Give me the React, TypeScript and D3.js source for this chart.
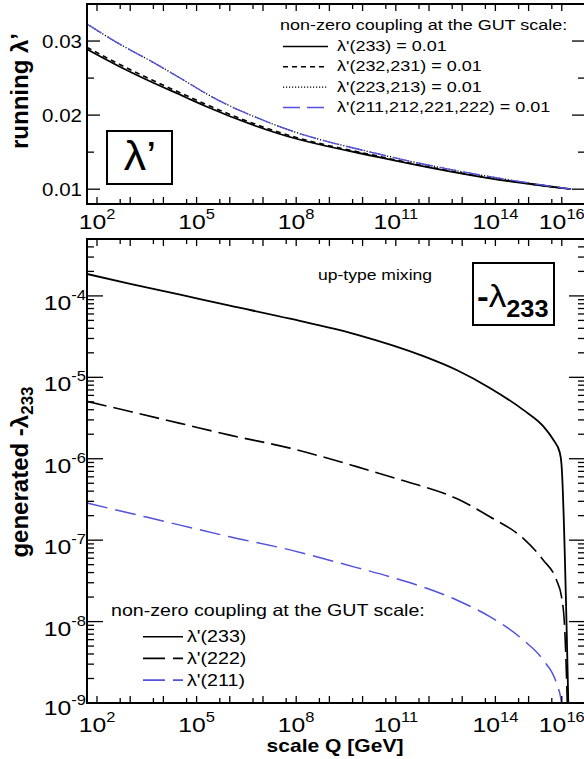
import React from "react";
import * as d3 from "d3";

const W = 584;
const H = 759;
const BLUE = "#5252dc";
const FONT = "'Liberation Sans', Arial, Helvetica, sans-serif";

// upper panel: running lambda' for different GUT-scale couplings
const Q_RUN = [5.0e1, 4.4e2, 4.4e3, 4.5e4, 1.8e5, 3.2e7, 3.3e10, 6.8e13, 1.9e16];
const RUN_233 = [0.02888, 0.02663, 0.02447, 0.02245, 0.02123, 0.01745, 0.0143, 0.01147, 0.01];
const RUN_232 = [0.02916, 0.02693, 0.02477, 0.02272, 0.0215, 0.01765, 0.01441, 0.01151, 0.01];
const RUN_223 = [0.0323, 0.02969, 0.02724, 0.02461, 0.02299, 0.01844, 0.01471, 0.01169, 0.01];
const RUN_211 = [0.0323, 0.02969, 0.02724, 0.02461, 0.02299, 0.01844, 0.01471, 0.01169, 0.01];

// lower panel: generated -lambda_233
const Q_233 = [5e1, 1e3, 3.2e4, 1e6, 6.5e7, 6.6e9, 6.8e11, 6.8e12, 6.8e13, 6.9e14, 2.75e15, 5.5e15, 8.7e15, 9.8e15, 1.6e16];
const GEN_233 = [1.86e-4, 1.41e-4, 1.035e-4, 7.6e-5, 5.25e-5, 3.35e-5, 1.82e-5, 1.23e-5, 7.4e-6, 3.98e-6, 2.51e-6, 1.72e-6, 1.19e-6, 8.5e-7, 7e-10];
const Q_222 = [5e1, 1e3, 3.2e4, 1e6, 6.5e7, 6.6e9, 1.3e11, 6.8e12, 6.8e13, 6.9e14, 2.75e15, 6.9e15, 9.8e15, 1.23e16, 1.5e16];
const GEN_222 = [5.07e-6, 3.8e-6, 2.72e-6, 1.95e-6, 1.35e-6, 8.0e-7, 5.55e-7, 3.24e-7, 1.94e-7, 1.05e-7, 5.7e-8, 3.24e-8, 2.02e-8, 7.9e-9, 7e-10];
const Q_211 = [5e1, 1e3, 3.2e4, 1e6, 6.5e7, 6.6e9, 6.6e10, 6.8e12, 6.8e13, 6.9e14, 2.75e15, 6.9e15, 9.8e15, 1.2e16];
const GEN_211 = [2.86e-7, 2.14e-7, 1.53e-7, 1.1e-7, 7.6e-8, 4.6e-8, 3.56e-8, 1.84e-8, 1.15e-8, 5.94e-9, 3.37e-9, 1.75e-9, 1.0e-9, 4e-10];

// ticks
const X_LABEL_EXP = [2, 5, 8, 11, 14, 16];
const X_DECADES = d3.range(2, 17);
const X_HALVES = d3.range(2, 17).map((n) => 5 * Math.pow(10, n));
const TOP_Y_MAJOR = [0.01, 0.02, 0.03];
const TOP_Y_MINOR = [0.015, 0.025];
const TOP_Y_LABELS = ["0.01", "0.02", "0.03"];
const BOT_Y_EXP = [-9, -8, -7, -6, -5, -4];

const TOP_LEGEND = ["λ'(233) = 0.01", "λ'(232,231) = 0.01", "λ'(223,213) = 0.01", "λ'(211,212,221,222) = 0.01"];
const BOT_LEGEND = ["λ'(233)", "λ'(222)", "λ'(211)"];

const L = 87;
const R = 585;
const TOP = { y0: 4, y1: 204 };
const BOT = { y0: 239, y1: 703 };

const x = d3.scaleLog().domain([50, 5e16]).range([L, R]);
const yTop = d3.scaleLinear().domain([0.008, 0.035]).range([TOP.y1, TOP.y0]);
const yBot = d3.scaleLog().domain([1e-9, 5e-4]).range([BOT.y1, BOT.y0]);

type Pt = [number, number];
const zip = (qs: number[], vs: number[]): Pt[] => qs.map((q, i) => [q, vs[i]] as Pt);

const lineTop = d3.line<Pt>().x((d) => x(d[0])).y((d) => yTop(d[1])).curve(d3.curveMonotoneX);
const lineBot = d3.line<Pt>().x((d) => x(d[0])).y((d) => yBot(d[1])).curve(d3.curveMonotoneX);

function T({ x, y, size, sx = 1.15, anchor = "start", weight = "normal", children }: any) {
  return (
    <text
      transform={`translate(${x},${y}) scale(${sx},1)`}
      fontSize={size}
      textAnchor={anchor}
      fontWeight={weight}
      fontFamily={FONT}
      fill="#000"
    >
      {children}
    </text>
  );
}

function Pow({ x, y, exp, anchor = "middle" }: any) {
  return (
    <T x={x} y={y} size={21} sx={1.18} anchor={anchor}>
      <tspan>10</tspan>
      <tspan fontSize={14} dy={-10}>{exp}</tspan>
    </T>
  );
}

function XTicks({ y0, y1 }: { y0: number; y1: number }) {
  const out: React.ReactNode[] = [];
  X_DECADES.forEach((n) => {
    const px = x(Math.pow(10, n));
    out.push(<line key={"d" + n} x1={px} x2={px} y1={y1} y2={y1 - 7} />);
    out.push(<line key={"dt" + n} x1={px} x2={px} y1={y0} y2={y0 + 7} />);
  });
  X_HALVES.forEach((v, i) => {
    const px = x(v);
    if (px >= R - 1) return;
    out.push(<line key={"h" + i} x1={px} x2={px} y1={y1} y2={y1 - 5} />);
    out.push(<line key={"ht" + i} x1={px} x2={px} y1={y0} y2={y0 + 5} />);
  });
  return <g stroke="#000" strokeWidth={1.3}>{out}</g>;
}

export default function App() {
  const botMinor: number[] = [];
  BOT_Y_EXP.forEach((e) => {
    for (let m = 2; m <= 9; m++) {
      const v = m * Math.pow(10, e);
      if (v <= 5e-4) botMinor.push(v);
    }
  });

  return (
    <svg width={W} height={H} style={{ position: "absolute", left: 0, top: 0, background: "#fff" }}>
      <defs>
        <clipPath id="clipTop">
          <rect x={L} y={TOP.y0} width={R - L} height={TOP.y1 - TOP.y0} />
        </clipPath>
        <clipPath id="clipBot">
          <rect x={L} y={BOT.y0} width={R - L} height={BOT.y1 - BOT.y0} />
        </clipPath>
      </defs>

      {/* ---------- upper panel ---------- */}
      <g clipPath="url(#clipTop)" fill="none">
        <path d={lineTop(zip(Q_RUN, RUN_233)) || ""} stroke="#000" strokeWidth={1.8} />
        <path d={lineTop(zip(Q_RUN, RUN_232)) || ""} stroke="#000" strokeWidth={1.6} strokeDasharray="5,4" />
        <path d={lineTop(zip(Q_RUN, RUN_223)) || ""} stroke="#000" strokeWidth={1.3} strokeDasharray="1.2,1.8" />
        <path d={lineTop(zip(Q_RUN, RUN_211)) || ""} stroke={BLUE} strokeWidth={1.4} strokeDasharray="17,7" />
      </g>
      <XTicks y0={TOP.y0} y1={TOP.y1} />
      <g stroke="#000" strokeWidth={1.3}>
        {TOP_Y_MAJOR.map((v) => (
          <g key={v}>
            <line x1={L} x2={L + 13} y1={yTop(v)} y2={yTop(v)} />
            <line x1={R} x2={R - 13} y1={yTop(v)} y2={yTop(v)} />
          </g>
        ))}
        {TOP_Y_MINOR.map((v) => (
          <g key={v}>
            <line x1={L} x2={L + 7} y1={yTop(v)} y2={yTop(v)} />
            <line x1={R} x2={R - 7} y1={yTop(v)} y2={yTop(v)} />
          </g>
        ))}
      </g>
      <rect x={L} y={TOP.y0} width={R - L} height={TOP.y1 - TOP.y0} fill="none" stroke="#000" strokeWidth={2} />
      {TOP_Y_MAJOR.map((v, i) => (
        <T key={v} x={82} y={yTop(v) + 7} size={19} sx={1.08} anchor="end">
          {TOP_Y_LABELS[i]}
        </T>
      ))}
      {X_LABEL_EXP.map((n) => (
        <Pow key={n} x={x(Math.pow(10, n))} y={229} exp={n} />
      ))}
      <text transform="translate(28,91) rotate(-90)" textAnchor="middle" fontWeight="bold" fontSize={24} fontFamily={FONT}>
        running λ’
      </text>

      {/* legend upper */}
      <T x={280} y={30} size={15.5} sx={1.16}>non-zero coupling at the GUT scale:</T>
      {TOP_LEGEND.map((s, i) => {
        const ly = 46.5 + i * 20.3;
        const styles = [
          { stroke: "#000", w: 1.6, dash: undefined },
          { stroke: "#000", w: 1.6, dash: "5,4" },
          { stroke: "#000", w: 1.3, dash: "1.2,1.8" },
          { stroke: BLUE, w: 1.5, dash: "17,7" },
        ][i];
        return (
          <g key={s}>
            <line x1={283} x2={328} y1={ly} y2={ly} stroke={styles.stroke} strokeWidth={styles.w} strokeDasharray={styles.dash} />
            <T x={337} y={ly + 4.5} size={15.5} sx={1.16}>{s}</T>
          </g>
        );
      })}

      {/* label box upper */}
      <rect x={107} y={131} width={65} height={53} fill="#fff" stroke="#000" strokeWidth={2} />
      <T x={140} y={170} size={40} sx={1.12} anchor="middle">λ’</T>

      {/* ---------- lower panel ---------- */}
      <g clipPath="url(#clipBot)" fill="none">
        <path d={lineBot(zip(Q_233, GEN_233)) || ""} stroke="#000" strokeWidth={1.8} />
        <path d={lineBot(zip(Q_222, GEN_222)) || ""} stroke="#000" strokeWidth={1.6} strokeDasharray="20,7" />
        <path d={lineBot(zip(Q_211, GEN_211)) || ""} stroke={BLUE} strokeWidth={1.5} strokeDasharray="21,8" />
      </g>
      <XTicks y0={BOT.y0} y1={BOT.y1} />
      <g stroke="#000" strokeWidth={1.3}>
        {BOT_Y_EXP.map((e) => {
          const py = yBot(Math.pow(10, e));
          return (
            <g key={e}>
              <line x1={L} x2={L + 16} y1={py} y2={py} />
              <line x1={R} x2={R - 16} y1={py} y2={py} />
            </g>
          );
        })}
        {botMinor.map((v, i) => (
          <g key={i}>
            <line x1={L} x2={L + 7} y1={yBot(v)} y2={yBot(v)} />
            <line x1={R} x2={R - 7} y1={yBot(v)} y2={yBot(v)} />
          </g>
        ))}
      </g>
      <rect x={L} y={BOT.y0} width={R - L} height={BOT.y1 - BOT.y0} fill="none" stroke="#000" strokeWidth={2} />
      {BOT_Y_EXP.map((e) => (
        <Pow key={e} x={86} y={yBot(Math.pow(10, e)) + (e === -9 ? 12 : 14)} exp={e} anchor="end" />
      ))}
      {X_LABEL_EXP.map((n) => (
        <Pow key={n} x={x(Math.pow(10, n))} y={732} exp={n} />
      ))}
      <T x={335} y={752} size={18} sx={1.17} anchor="middle" weight="bold">scale Q [GeV]</T>
      <text transform="translate(28,472) rotate(-90)" textAnchor="middle" fontWeight="bold" fontSize={24} fontFamily={FONT}>
        generated -λ<tspan fontSize={17} dy={5}>233</tspan>
      </text>

      <T x={318} y={280} size={15} sx={1.17}>up-type mixing</T>

      {/* label box lower */}
      <rect x={473} y={263} width={81} height={62} fill="#fff" stroke="#000" strokeWidth={2} />
      <T x={477} y={307} size={32} sx={1.1}>
        <tspan fontWeight="bold">-</tspan>
        <tspan>λ</tspan>
        <tspan fontWeight="bold" fontSize={23} dy={10}>233</tspan>
      </T>

      {/* legend lower */}
      <T x={111} y={616} size={16.5} sx={1.19}>non-zero coupling at the GUT scale:</T>
      {BOT_LEGEND.map((s, i) => {
        const ly = 636.7 + i * 21.7;
        const styles = [
          { stroke: "#000", dash: undefined },
          { stroke: "#000", dash: "22,8" },
          { stroke: BLUE, dash: "22,8" },
        ][i];
        return (
          <g key={s}>
            <line x1={143} x2={183} y1={ly} y2={ly} stroke={styles.stroke} strokeWidth={1.6} strokeDasharray={styles.dash} />
            <T x={187} y={ly + 5.5} size={16.5} sx={1.19}>{s}</T>
          </g>
        );
      })}
    </svg>
  );
}
